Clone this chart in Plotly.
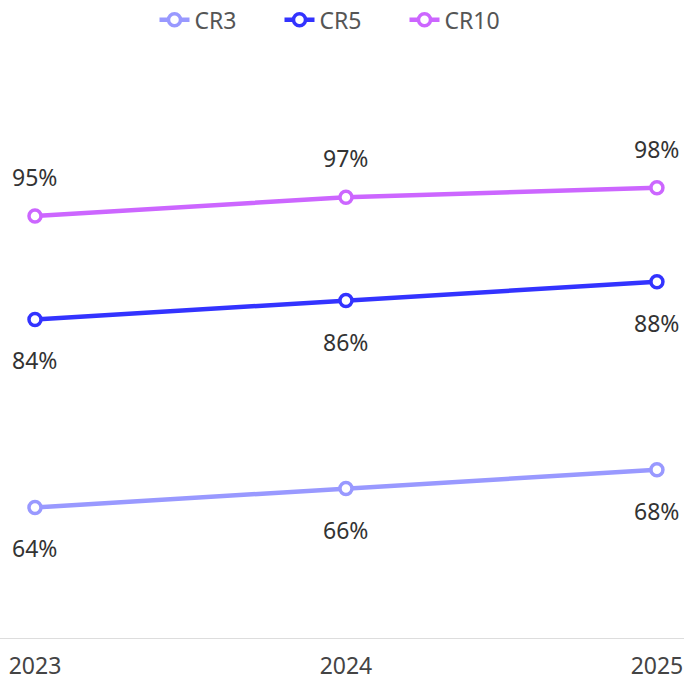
import plotly.graph_objects as go

years = ["2023", "2024", "2025"]
cr3 = [64, 66, 68]
cr5 = [84, 86, 88]
cr10 = [95, 97, 98]
series_names = ["CR3", "CR5", "CR10"]
colors = ["#9999ff", "#3333ff", "#cc66ff"]
label_pos = ["below", "below", "above"]

fig = go.Figure()
annotations = []
for name, vals, col, pos in zip(series_names, [cr3, cr5, cr10], colors, label_pos):
    fig.add_trace(go.Scatter(
        x=years, y=vals, name=name, mode="lines+markers",
        line=dict(color=col, width=4.5),
        marker=dict(size=12, color="white", line=dict(color=col, width=3.5)),
        cliponaxis=False,
    ))
    for i, yv in enumerate(vals):
        annotations.append(dict(
            xref="x", yref="y", x=i, y=yv, text=f"{yv}%", showarrow=False,
            yshift=39 if pos == "above" else -41,
            font=dict(size=23, color="#333333", family="Noto Sans"),
        ))

fig.update_layout(
    width=684, height=683,
    margin=dict(l=0, r=0, t=75, b=44, autoexpand=False),
    paper_bgcolor="white", plot_bgcolor="white",
    font=dict(family="Noto Sans", size=20, color="#444444"),
    showlegend=True,
    annotations=annotations,
    legend=dict(orientation="h", x=0.5, xanchor="center", y=0.971, yanchor="middle",
                yref="container", font=dict(size=23, color="#555555"),
                itemwidth=30, tracegroupgap=0, entrywidth=80),
    xaxis=dict(type="category", range=[-0.1125, 2.087], showgrid=False, zeroline=False,
               showline=False, ticks="", ticklabelstandoff=11, automargin=False,
               tickfont=dict(size=23, color="#444444")),
    yaxis=dict(range=[50, 110], showgrid=False, zeroline=False, showline=False,
               showticklabels=False, automargin=False),
    shapes=[dict(type="line", xref="paper", yref="y", x0=0, x1=1, y0=50, y1=50,
                 line=dict(color="#dddddd", width=2))],
)

fig.write_html("out.html", post_script="document.body.style.margin='0';",
               config={"displayModeBar": False})
